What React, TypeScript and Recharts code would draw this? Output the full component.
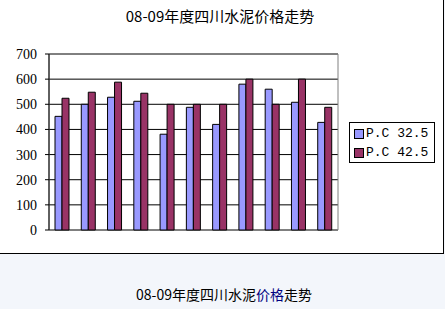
import React from 'react';
import { BarChart, Bar, XAxis, YAxis, CartesianGrid, Legend, ReferenceArea } from 'recharts';

const categories = ['1', '2', '3', '4', '5', '6', '7', '8', '9', '10', '11'];
const pc325 = [452, 500, 528, 512, 381, 488, 420, 580, 560, 508, 428];
const pc425 = [524, 548, 588, 544, 500, 500, 500, 600, 500, 600, 488];
const yTicks = [0, 100, 200, 300, 400, 500, 600, 700];
const seriesNames = ['P.C 32.5', 'P.C 42.5'];
const title = '08-09年度四川水泥价格走势';

const data = categories.map((c, i) => ({ name: c, a: pc325[i], b: pc425[i] }));

const LegendBox = (props: any) => {
  const payload = props.payload || [];
  return (
    <div
      style={{
        width: 84,
        height: 38,
        border: '1px solid #000',
        background: '#fff',
        boxSizing: 'content-box',
        paddingTop: 1,
      }}
    >
      {payload.map((p: any, i: number) => (
        <div key={i} style={{ display: 'flex', alignItems: 'center', height: 19, paddingLeft: 4 }}>
          <span
            style={{
              display: 'inline-block',
              width: 8,
              height: 8,
              background: p.color,
              border: '1px solid #000',
              marginRight: 2,
            }}
          />
          <span style={{ fontFamily: '"Liberation Mono", monospace', fontSize: 13, color: '#000', whiteSpace: 'pre' }}>
            {p.value}
          </span>
        </div>
      ))}
    </div>
  );
};

const SerifTick = (props: any) => {
  const { x, y, payload } = props;
  return (
    <text x={x} y={y} dy={5} textAnchor="end" fill="#000" fontSize={14} fontFamily='"Liberation Serif", serif'>
      {payload.value}
    </text>
  );
};

export default function App() {
  return (
    <div style={{ position: 'absolute', left: 0, top: 0, width: 445, height: 309, background: '#F3F6FB', overflow: 'hidden' }}>
      <div
        style={{
          position: 'absolute',
          left: 0,
          top: 0,
          width: 443,
          height: 253,
          background: '#fff',
          borderRight: '1px solid #000',
          borderBottom: '1px solid #000',
        }}
      >
        <div
          style={{
            position: 'absolute',
            left: 0,
            top: 6,
            width: 440,
            textAlign: 'center',
            fontFamily: '"Noto Sans CJK SC", sans-serif',
            fontSize: 15,
            lineHeight: '20px',
            color: '#000',
          }}
        >
          {title}
        </div>
        <BarChart
          width={443}
          height={253}
          data={data}
          margin={{ top: 54, right: 19, bottom: 23, left: 0 }}
          barGap={0}
          barSize={7}
          style={{ position: 'absolute', left: 0, top: 0 }}
        >
          <CartesianGrid vertical={false} stroke="#000" strokeWidth={1} />
          <ReferenceArea y1={0} y2={700} fill="none" stroke="#808080" strokeWidth={1} fillOpacity={0} />
          <XAxis dataKey="name" hide />
          <YAxis
            width={49}
            domain={[0, 700]}
            ticks={yTicks}
            interval={0}
            tickSize={4}
            tickMargin={8}
            axisLine={{ stroke: '#000' }}
            tickLine={{ stroke: '#000' }}
            tick={<SerifTick />}
          />
          <Bar dataKey="a" name={seriesNames[0]} fill="#9999FF" stroke="#000" strokeWidth={1} barSize={7} isAnimationActive={false} />
          <Bar dataKey="b" name={seriesNames[1]} fill="#993366" stroke="#000" strokeWidth={1} barSize={7} isAnimationActive={false} />
          <Legend
            layout="vertical"
            align="right"
            verticalAlign="middle"
            content={<LegendBox />}
            wrapperStyle={{ left: 349, top: 122, width: 86, height: 40 }}
          />
        </BarChart>
      </div>
      <div
        style={{
          position: 'absolute',
          left: 0,
          top: 284,
          width: 448,
          textAlign: 'center',
          fontFamily: '"Noto Sans CJK SC", sans-serif',
          fontSize: 14,
          lineHeight: '20px',
          color: '#000',
        }}
      >
        08-09年度四川水泥<span style={{ color: '#000080' }}>价格</span>走势
      </div>
    </div>
  );
}
